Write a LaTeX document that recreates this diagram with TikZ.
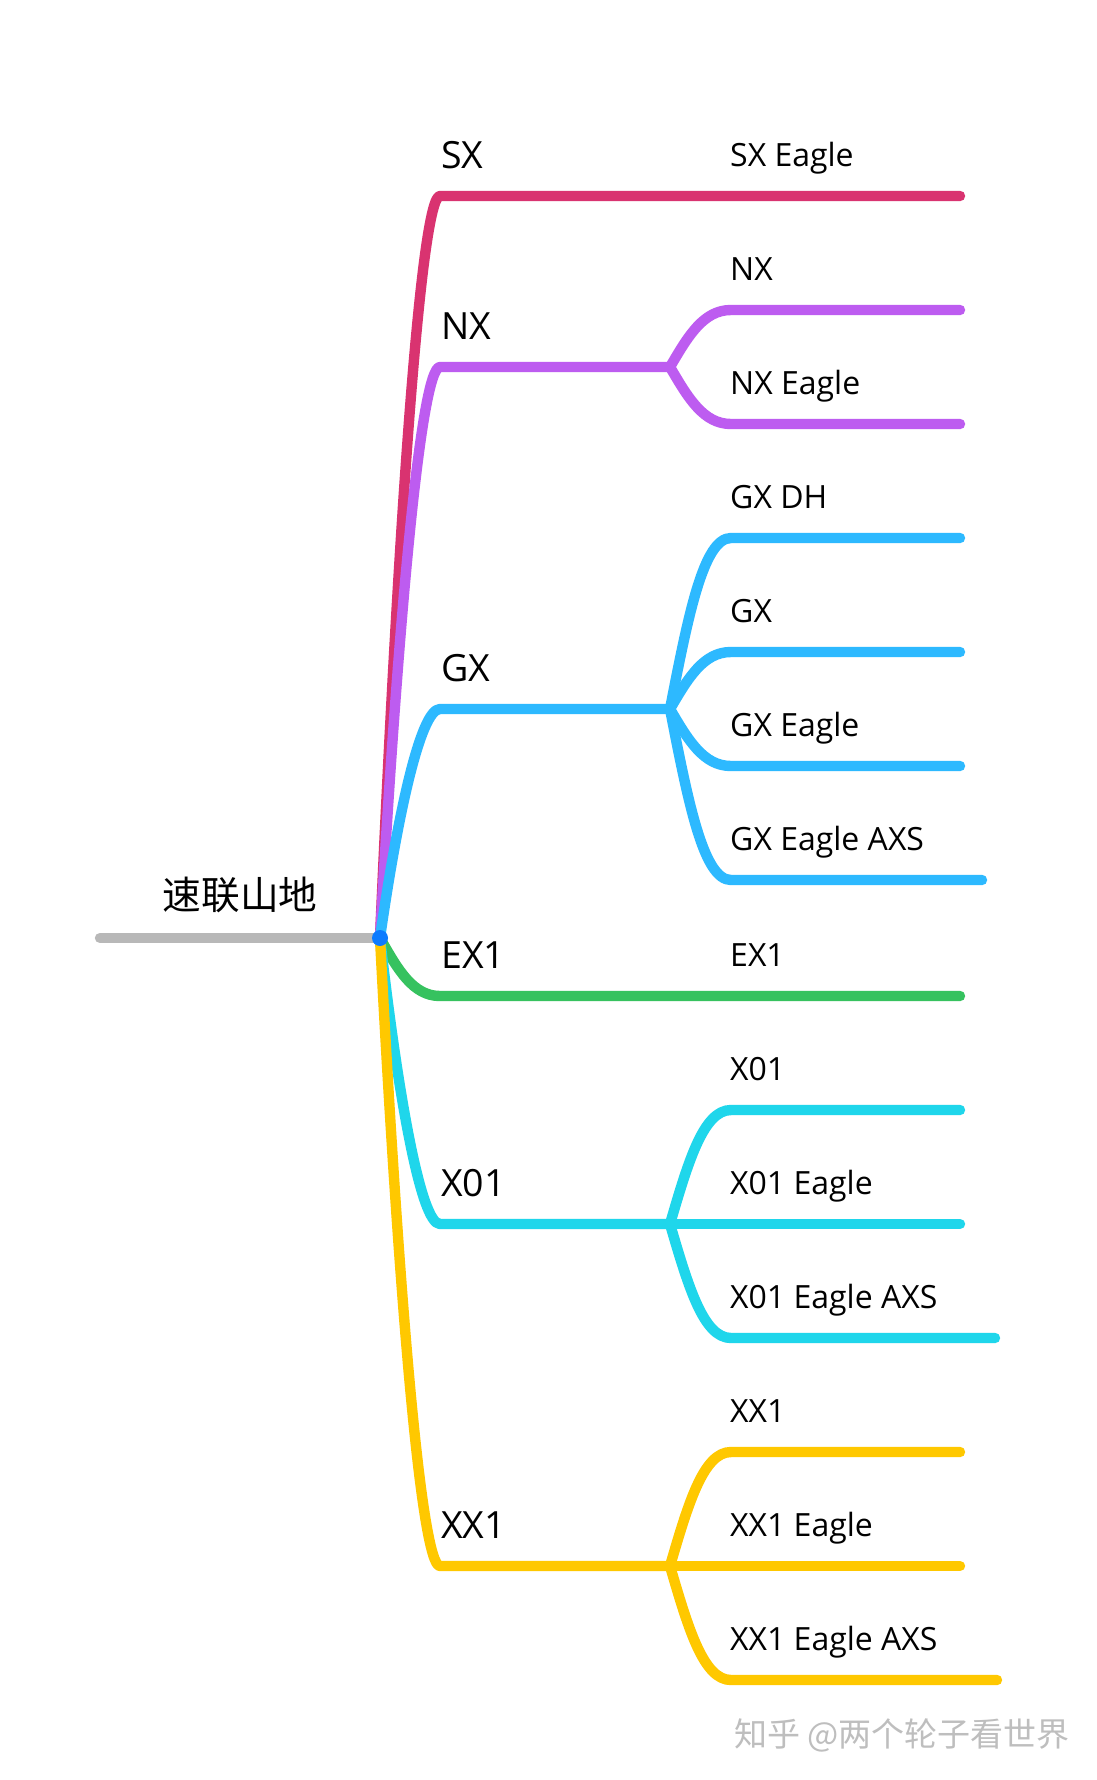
\documentclass[tikz,border=0pt]{standalone}
\usepackage{fontspec}
\usetikzlibrary{calc}
\setmainfont{Open Sans}
\newfontfamily\cjkfont{Noto Sans CJK SC}
\definecolor{cgray}{HTML}{B8B8B8}
\definecolor{cdot}{HTML}{0D7BFF}
\definecolor{cred}{HTML}{D93370}
\definecolor{cpur}{HTML}{BD5CF0}
\definecolor{cblu}{HTML}{2DB9FF}
\definecolor{cgrn}{HTML}{36C25F}
\definecolor{ccya}{HTML}{1FD6EB}
\definecolor{cyel}{HTML}{FFC800}
\definecolor{cmark}{HTML}{BEBEBE}
\tikzset{
  x=1pt,y=-1pt,
  bez/.style={to path={let \p1=(\tikztostart),\p2=(\tikztotarget) in .. controls ({\x1+0.3*(\x2-\x1)},{\y1+0.55*(\y2-\y1)}) and ({\x1+0.55*(\x2-\x1)},\y2) .. (\p2)}},
  bezt/.style={to path={let \p1=(\tikztostart),\p2=(\tikztotarget) in .. controls ({\x1+0.3*(\x2-\x1)},{\y1+0.55*(\y2-\y1)}) and ({\x1+0.68*(\x2-\x1)},\y2) .. (\p2)}},
  wire/.style={line width=10.4pt,line cap=round,line join=round},
  lone/.style={anchor=base west,inner sep=0pt,font=\fontsize{37.5}{37.5}\selectfont},
  ltwo/.style={anchor=base west,inner sep=0pt,font=\fontsize{32}{32}\selectfont},
}
\begin{document}
\begin{tikzpicture}
\useasboundingbox (0,0) rectangle (1097,1780);
\fill[white] (0,0) rectangle (1097,1780);
% anchors
\coordinate (start) at (100,938);
\coordinate (root) at (380,938);
\def\xa{440}\def\xj{670}\def\xb{731}
\foreach \n/\y in {sx/196,nx/367,gx/709,ex/996,xo/1224,xx/1566}{\coordinate (\n) at (\xa,\y);}
\foreach \n/\y/\e in {sxe/196/960,nxa/310/960,nxb/424/960,gxa/538/960,gxb/652/960,gxc/766/960,gxd/880/982,exe/996/960,xoa/1110/960,xob/1224/960,xoc/1338/995,xxa/1452/960,xxb/1566/960,xxc/1680/997}{\coordinate (\n) at (\xb,\y);\coordinate (\n-t) at (\e,\y);}
\foreach \n/\y in {nx/367,gx/709,xo/1224,xx/1566}{\coordinate (\n-j) at (\xj,\y);}
% labels
\node[anchor=base,inner sep=0pt,font=\cjkfont\fontsize{38.7}{38.7}\selectfont] (rootlab) at (240,909) {速联山地};
\node[lone] (l1) at (441,168.5) {SX};
\node[lone] (l2) at (441,339.5) {NX};
\node[lone] (l3) at (441,681.5) {GX};
\node[lone] (l4) at (441,968.5) {EX1};
\node[lone] (l5) at (441,1196.5) {X01};
\node[lone] (l6) at (441,1538.5) {XX1};
\foreach \n/\t/\y in {a/SX Eagle/166,b/NX/280,c/NX Eagle/394,d/GX DH/508,e/GX/622,f/GX Eagle/736,g/GX Eagle AXS/850,h/EX1/966,i/X01/1080,j/X01 Eagle/1194,k/X01 Eagle AXS/1308,m/XX1/1422,n/XX1 Eagle/1536,o/XX1 Eagle AXS/1650}
  {\node[ltwo] (t\n) at (730,\y) {\t};}
\node[anchor=base west,inner sep=0pt,text=cmark,font=\cjkfont\fontsize{33}{33}\selectfont] (mark) at (734,1746) {知乎 @两个轮子看世界};
% connectors
\draw[wire,cgray] (start) -- (root);
\draw[wire,cred] (root) to[bezt] (sx) -- (sxe-t);
\draw[wire,cpur] (root) to[bezt] (nx) -- (nx-j);
\draw[wire,cpur] (nx-j) to[bez] (nxa) -- (nxa-t);
\draw[wire,cpur] (nx-j) to[bez] (nxb) -- (nxb-t);
\draw[wire,cblu] (root) to[bezt] (gx) -- (gx-j);
\draw[wire,cblu] (gx-j) to[bez] (gxa) -- (gxa-t);
\draw[wire,cblu] (gx-j) to[bez] (gxb) -- (gxb-t);
\draw[wire,cblu] (gx-j) to[bez] (gxc) -- (gxc-t);
\draw[wire,cblu] (gx-j) to[bez] (gxd) -- (gxd-t);
\draw[wire,cgrn] (root) to[bez] (ex) -- (exe-t);
\draw[wire,ccya] (root) to[bezt] (xo) -- (xo-j);
\draw[wire,ccya] (xo-j) to[bez] (xoa) -- (xoa-t);
\draw[wire,ccya] (xo-j) -- (xob-t);
\draw[wire,ccya] (xo-j) to[bez] (xoc) -- (xoc-t);
\draw[wire,cyel] (root) to[bezt] (xx) -- (xx-j);
\draw[wire,cyel] (xx-j) to[bez] (xxa) -- (xxa-t);
\draw[wire,cyel] (xx-j) -- (xxb-t);
\draw[wire,cyel] (xx-j) to[bez] (xxc) -- (xxc-t);
\fill[cdot] (root) circle (8);
\end{tikzpicture}
\end{document}
